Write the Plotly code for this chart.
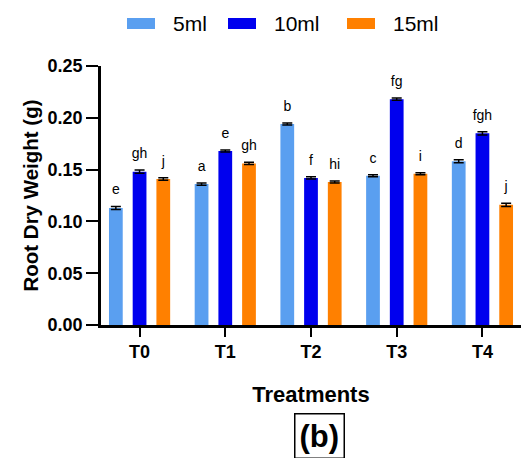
import plotly.graph_objects as go

treatments = ["T0", "T1", "T2", "T3", "T4"]
series_names = ["5ml", "10ml", "15ml"]
values_5ml = [0.113, 0.136, 0.194, 0.144, 0.158]
values_10ml = [0.148, 0.168, 0.142, 0.218, 0.185]
values_15ml = [0.141, 0.156, 0.138, 0.146, 0.116]
err_5ml = [0.0015, 0.001, 0.001, 0.001, 0.0015]
err_10ml = [0.0015, 0.001, 0.001, 0.001, 0.0015]
err_15ml = [0.0012, 0.001, 0.001, 0.001, 0.0015]
letters_5ml = ["e", "a", "b", "c", "d"]
letters_10ml = ["gh", "e", "f", "fg", "fgh"]
letters_15ml = ["j", "gh", "hi", "i", "j"]
colors = ["#5a9ff0", "#0000ee", "#ff8000"]

FONT = "Arial, Liberation Sans, Helvetica, sans-serif"

fig = go.Figure()
groups = list(zip(
    series_names,
    [values_5ml, values_10ml, values_15ml],
    [err_5ml, err_10ml, err_15ml],
    [letters_5ml, letters_10ml, letters_15ml],
    colors,
))
for name, vals, errs, letters, col in groups:
    fig.add_trace(go.Bar(
        x=treatments, y=vals, name=name, marker_color=col, marker_line_width=0,
        offsetgroup=name, alignmentgroup="a",
        error_y=dict(type="data", array=errs, visible=True, color="black",
                     thickness=1.5, width=5),
        showlegend=False,
    ))
for name, vals, errs, letters, col in groups:
    fig.add_trace(go.Scatter(
        x=treatments, y=[v + e for v, e in zip(vals, errs)],
        offsetgroup=name, alignmentgroup="a",
        mode="markers+text", text=letters, textposition="top center",
        marker=dict(size=12, opacity=0),
        textfont=dict(family=FONT, size=14, color="black"),
        cliponaxis=False, showlegend=False, hoverinfo="skip",
    ))

fig.update_layout(
    width=521, height=458,
    margin=dict(l=101, r=0, t=66, b=133),
    paper_bgcolor="white", plot_bgcolor="white",
    barmode="group", bargap=0.17, bargroupgap=0.42,
    scattermode="group", scattergap=0.17,
    font=dict(family=FONT, color="black"),
    xaxis=dict(
        range=[-0.45, 4.45], showline=True, linecolor="black", linewidth=2.5,
        ticks="outside", ticklen=9, tickwidth=2, tickcolor="black",
        tickfont=dict(family=FONT, size=18, color="black", weight="bold"),
        title=dict(text="<b>Treatments</b>", font=dict(size=22), standoff=26),
    ),
    yaxis=dict(
        range=[0, 0.25], dtick=0.05, tickformat=".2f", showline=True,
        linecolor="black", linewidth=2.5, ticks="outside", ticklen=12,
        tickwidth=2, tickcolor="black", showgrid=False, zeroline=False,
        tickfont=dict(family=FONT, size=18, color="black", weight="bold"),
        title=dict(text="<b>Root Dry Weight (g)</b>", font=dict(size=20.5), standoff=4),
    ),
)

def px(x):
    return (x - 101) / 420

def py(y):
    return (325 - y) / 259

# legend drawn manually (rectangular swatches)
leg_x = [127, 228, 347]
for i, (name, col) in enumerate(zip(series_names, colors)):
    fig.add_shape(type="rect", xref="paper", yref="paper",
                  x0=px(leg_x[i]), x1=px(leg_x[i] + 28),
                  y0=py(29), y1=py(18), line_width=0, fillcolor=col)
    fig.add_annotation(xref="paper", yref="paper", x=px(leg_x[i] + 44), y=py(23.5),
                       text=name, showarrow=False, xanchor="left", yanchor="middle",
                       font=dict(family=FONT, size=21, color="black"))

# (b) label box
fig.add_annotation(xref="paper", yref="paper", x=px(319), y=py(436),
                   text="<b>(b)</b>", showarrow=False, xanchor="center", yanchor="middle",
                   font=dict(family=FONT, size=31, color="black"),
                   bordercolor="black", borderwidth=1.5, borderpad=4, bgcolor="white")

fig.write_html("out.html")
